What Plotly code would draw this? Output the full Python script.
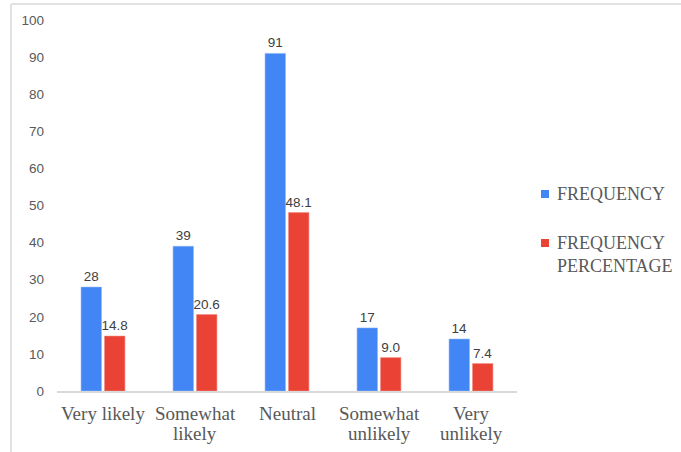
import plotly.graph_objects as go

categories = ["Very likely", "Somewhat likely", "Neutral", "Somewhat unlikely", "Very unlikely"]
category_lines = [["Very likely"], ["Somewhat", "likely"], ["Neutral"], ["Somewhat", "unlikely"], ["Very", "unlikely"]]
frequency = [28, 39, 91, 17, 14]
frequency_pct = [14.8, 20.6, 48.1, 9.0, 7.4]
y_ticks = [0, 10, 20, 30, 40, 50, 60, 70, 80, 90, 100]

BLUE = "#4285F4"
RED = "#EA4335"
TXT = "#595959"
SERIF = "Liberation Serif, Times New Roman"
SANS = "Liberation Sans, Arial"

fig = go.Figure()
fig.add_bar(
    x=categories, y=frequency, name="FREQUENCY",
    marker=dict(color=BLUE, line=dict(color="#8ab4f8", width=0.6)),
    text=[f"{v:d}" for v in frequency], textposition="outside",
    constraintext="none",
    textfont=dict(family=SANS, size=13.5, color="#404040"),
    cliponaxis=False,
)
fig.add_bar(
    x=categories, y=frequency_pct, name="FREQUENCY<br>PERCENTAGE",
    marker=dict(color=RED, line=dict(color="#f28b82", width=0.6)),
    text=[f"{v:.1f}" for v in frequency_pct], textposition="outside",
    constraintext="none",
    textfont=dict(family=SANS, size=13.5, color="#404040"),
    cliponaxis=False,
)

L, R, T, B = 57, 517, 20, 391
W, H = 681, 452
pw, ph = R - L, B - T


def px(x):
    return (x - L) / pw


def py(y):
    return (B - y) / ph


shapes = [
    # outer frame (top and left edges visible)
    dict(type="line", xref="paper", yref="paper", x0=px(11), x1=px(W + 5), y0=py(4), y1=py(4),
         line=dict(color="#d9d9d9", width=1.5)),
    dict(type="line", xref="paper", yref="paper", x0=px(11), x1=px(11), y0=py(4), y1=py(H + 5),
         line=dict(color="#d9d9d9", width=1.5)),
]

annotations = []
# category labels, one annotation per text line
for cat, lines in zip(categories, category_lines):
    for i, line in enumerate(lines):
        annotations.append(dict(xref="x", yref="paper", x=cat, y=py(413 + 20 * i),
                                xanchor="center", yanchor="middle", text=line, showarrow=False,
                                font=dict(family=SERIF, size=19, color=TXT)))

# legend drawn as squares plus text
legend_items = [(trace.name, trace.marker.color, yc) for trace, yc in zip(fig.data, [194, 243])]
for name, color, yc in legend_items:
    shapes.append(dict(type="rect", xref="paper", yref="paper",
                       x0=px(541), x1=px(549), y0=py(yc - 4), y1=py(yc + 4),
                       fillcolor=color, line=dict(width=0)))
    annotations.append(dict(xref="paper", yref="paper", x=px(555), y=py(yc - 12),
                            xanchor="left", yanchor="top", align="left",
                            text=name, showarrow=False,
                            font=dict(family=SERIF, size=18, color=TXT)))

fig.update_layout(
    width=W, height=H,
    margin=dict(l=L, r=W - R, t=T, b=H - B, pad=0),
    paper_bgcolor="white", plot_bgcolor="white",
    barmode="group", bargap=0.49, bargroupgap=0.13,
    showlegend=False,
    shapes=shapes, annotations=annotations,
    xaxis=dict(
        showline=True, linecolor="#d9d9d9", linewidth=1.5,
        ticks="", showgrid=False, showticklabels=False,
    ),
    yaxis=dict(
        range=[0, 100], tickvals=y_ticks, showgrid=False, zeroline=False,
        showline=False, ticks="", ticklabelstandoff=12,
        tickfont=dict(family=SANS, size=13.5, color=TXT),
    ),
)

fig.write_html("out.html")
